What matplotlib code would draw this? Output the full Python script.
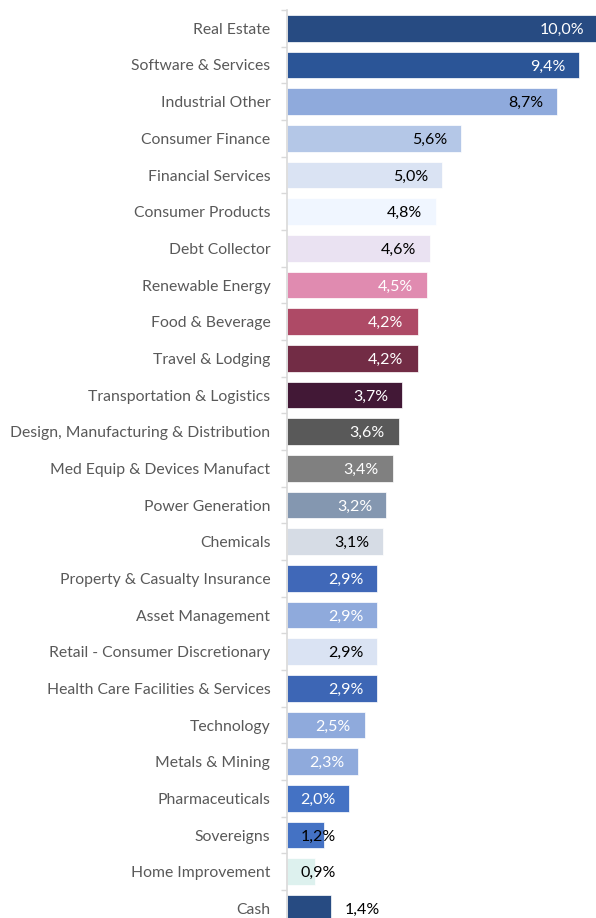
import matplotlib
matplotlib.use("Agg")
import matplotlib.pyplot as plt
from matplotlib.ticker import FixedLocator

categories = ["Real Estate", "Software & Services", "Industrial Other", "Consumer Finance",
              "Financial Services", "Consumer Products", "Debt Collector", "Renewable Energy",
              "Food & Beverage", "Travel & Lodging", "Transportation & Logistics",
              "Design, Manufacturing & Distribution", "Med Equip & Devices Manufact",
              "Power Generation", "Chemicals", "Property & Casualty Insurance",
              "Asset Management", "Retail - Consumer Discretionary",
              "Health Care Facilities & Services", "Technology", "Metals & Mining",
              "Pharmaceuticals", "Sovereigns", "Home Improvement", "Cash"]
values = [10.0, 9.4, 8.7, 5.6, 5.0, 4.8, 4.6, 4.5, 4.2, 4.2, 3.7, 3.6, 3.4, 3.2, 3.1,
          2.9, 2.9, 2.9, 2.9, 2.5, 2.3, 2.0, 1.2, 0.9, 1.4]
colors = ["#274B82", "#2B5597", "#8FAADC", "#B4C7E7", "#DAE3F3", "#F0F6FF", "#EAE2F2",
          "#E08BB0", "#AE4A66", "#722C45", "#421836", "#595959", "#808080", "#8497B0",
          "#D6DCE5", "#4068B8", "#8FAADC", "#DAE3F3", "#3D66B5", "#8FAADC", "#8FAADC",
          "#4472C4", "#4472C4", "#DDF1EE", "#274B82"]
label_colors = ["white", "white", "black", "black", "black", "black", "black", "white",
                "white", "white", "white", "white", "white", "white", "black", "white",
                "white", "black", "white", "white", "white", "white", "black", "black",
                "black"]

plt.rcParams['font.family'] = ['Lato', 'DejaVu Sans']

fig = plt.figure(figsize=(5.96, 9.18), dpi=100)
ax = fig.add_axes([287/596, 0, 1 - 287/596, 1])

ypos = list(range(len(categories)))
ax.barh(ypos, values, height=0.727, color=colors, edgecolor="white", linewidth=0.5)

off = 0.45
for i, (v, lc) in enumerate(zip(values, label_colors)):
    txt = f"{v:.1f}".replace(".", ",") + "%"
    if categories[i] == "Cash":
        ax.text(v + off, i, txt, ha="left", va="center_baseline", color=lc, fontsize=11.5)
    elif v < 1.5:
        ax.text(off, i, txt, ha="left", va="center_baseline", color=lc, fontsize=11.5)
    else:
        ax.text(v - off, i, txt, ha="right", va="center_baseline", color=lc, fontsize=11.5)

ax.set_xlim(0, 9.94)
ax.set_ylim(24.26, -0.772)
ax.set_xticks([])
ax.set_yticks(ypos)
ax.set_yticklabels(categories, color="#595959", fontsize=11.3)
ax.yaxis.set_minor_locator(FixedLocator([i - 0.5 for i in range(len(categories) + 1)]))
ax.tick_params(axis="y", which="major", length=0, pad=12)
ax.tick_params(axis="y", which="minor", length=4, width=1, color="#D9D9D9", direction="out")
for s in ["top", "right", "bottom"]:
    ax.spines[s].set_visible(False)
ax.spines["left"].set_color("#D9D9D9")
ax.spines["left"].set_linewidth(1.2)
ax.spines["left"].set_bounds(-0.5, 24.26)

fig.savefig("out.png", dpi=100)
